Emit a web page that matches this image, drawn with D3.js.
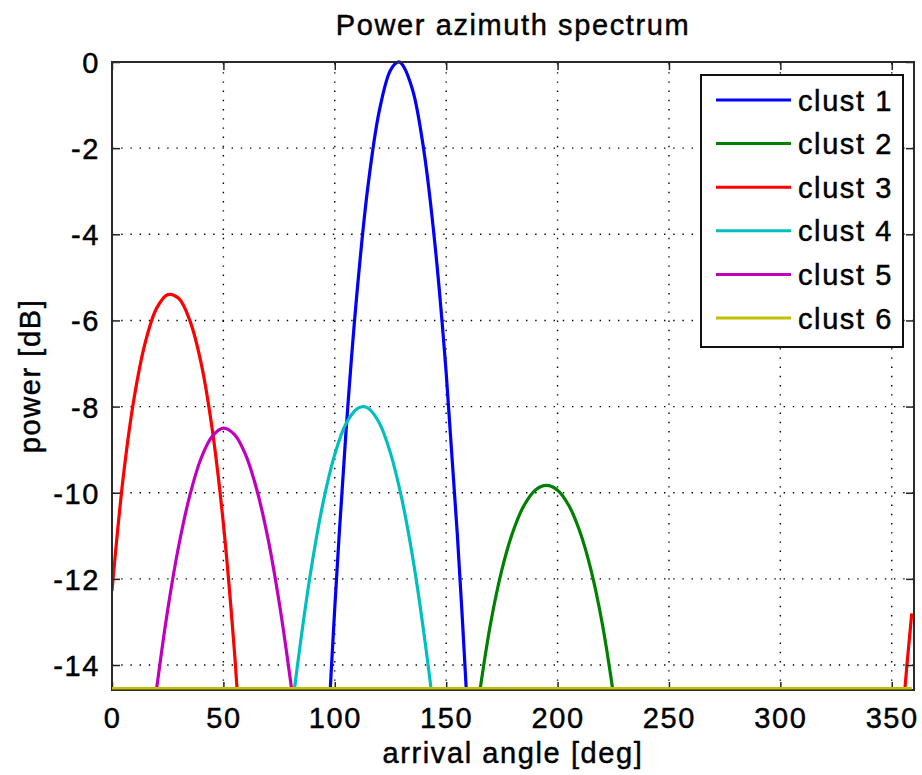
<!DOCTYPE html>
<html>
<head>
<meta charset="utf-8">
<script src="https://cdn.jsdelivr.net/npm/d3@7"></script>
<style>
  html, body { margin: 0; padding: 0; background: #fff; }
  svg { display: block; }
  text { font-family: "Liberation Sans", Arial, Helvetica, sans-serif; fill: #000; stroke: #000; stroke-width: 0.45px; }
</style>
</head>
<body>
<svg id="chart" width="922" height="775"></svg>
<script>
// Power azimuth spectrum per cluster: arrival angle [deg] vs power [dB]
const angleTicks = [0, 50, 100, 150, 200, 250, 300, 350];
const powerTicks = [0, -2, -4, -6, -8, -10, -12, -14];
const clusterNames = ["clust 1", "clust 2", "clust 3", "clust 4", "clust 5", "clust 6"];
const clusterColors = ["#0000ff", "#008000", "#ff0000", "#00bfbf", "#bf00bf", "#bfbf00"];

const clust1Angle = [96, 100, 105, 110, 115, 120, 125, 128.5, 130, 135, 140, 145, 150, 155, 160, 162];
const clust1Power = [-16.5, -12.67, -8.61, -5.34, -2.84, -1.13, -0.19, 0, -0.04, -0.66, -2.06, -4.25, -7.21, -10.96, -15.48, -17.5];

const clust2Angle = [160, 163, 165, 170, 175, 180, 185, 190, 195, 200, 205, 210, 215, 220, 225, 227, 230];
const clust2Power = [-17.5, -15.43, -14.65, -13.02, -11.79, -10.9, -10.29, -9.94, -9.83, -9.94, -10.29, -10.9, -11.79, -13.02, -14.65, -15.43, -17.5];

const clust3Angle = [0, 5, 10, 15, 20, 25, 30, 35, 40, 45, 50, 55, 58, 62, 352, 355, 356, 357, 358, 359];
const clust3Power = [-12.28, -9.66, -7.78, -6.5, -5.72, -5.4, -5.49, -6.01, -6.99, -8.53, -10.72, -13.71, -15.96, -18, -18, -15.0, -14.5, -13.9, -13.35, -12.8];

const clust4Angle = [78, 80, 85, 90, 95, 100, 105, 110, 112.6, 115, 120, 125, 130, 135, 140, 145, 148];
const clust4Power = [-17, -15.44, -13.33, -11.58, -10.17, -9.11, -8.4, -8.05, -8.0, -8.04, -8.38, -9.08, -10.12, -11.51, -13.26, -15.35, -17];

const clust5Angle = [15, 18, 20, 25, 30, 35, 40, 45, 50, 55, 60, 65, 70, 75, 80, 83, 86];
const clust5Power = [-17.5, -15.4, -14.56, -12.72, -11.22, -10.05, -9.2, -8.69, -8.5, -8.65, -9.12, -9.93, -11.06, -12.53, -14.32, -15.56, -17];

const clust6Angle = [0, 359];
const clust6Power = [-14.54, -14.54];

const series = [
  [clust1Angle, clust1Power],
  [clust2Angle, clust2Power],
  [clust3Angle, clust3Power],
  [clust4Angle, clust4Power],
  [clust5Angle, clust5Power],
  [clust6Angle, clust6Power]
].map(([a, p], i) => ({
  name: clusterNames[i],
  color: clusterColors[i],
  points: a.map((v, j) => [v, p[j]])
}));

const svg = d3.select("#chart");
const plotLeft = 112, plotRight = 914, plotTop = 62, plotBottom = 690;
const fontSize = 29, spacing = "1.6px";

const x = d3.scaleLinear().domain([0, 360]).range([plotLeft, plotRight]);
const y = d3.scaleLinear().domain([-14.58, 0]).range([plotBottom, plotTop]);

// dotted grid
const grid = svg.append("g").attr("stroke", "#000").attr("stroke-width", 1.4)
  .attr("stroke-dasharray", "1.4 7.8");
grid.selectAll("line.v").data(angleTicks.filter(d => d > 0)).join("line")
  .attr("class", "v")
  .attr("x1", d => x(d)).attr("x2", d => x(d))
  .attr("y1", plotBottom).attr("y2", plotTop);
grid.selectAll("line.h").data(powerTicks.filter(d => d < 0)).join("line")
  .attr("class", "h")
  .attr("x1", plotLeft).attr("x2", plotRight)
  .attr("y1", d => y(d)).attr("y2", d => y(d));

// curves, clipped to the axes box
svg.append("clipPath").attr("id", "plotClip")
  .append("rect").attr("x", plotLeft).attr("y", plotTop - 2)
  .attr("width", plotRight - plotLeft).attr("height", plotBottom - plotTop + 2);

const line = d3.line()
  .x(d => x(d[0])).y(d => y(d[1]))
  .curve(d3.curveCatmullRom.alpha(0.5));

svg.append("g").attr("clip-path", "url(#plotClip)")
  .selectAll("path").data(series.slice(0, 5)).join("path")
  .attr("d", d => line(d.points))
  .attr("fill", "none")
  .attr("stroke", d => d.color)
  .attr("stroke-width", 3.2)
  .attr("stroke-linejoin", "round");

// axes with inward ticks on all four sides
const tick = 8;
const fmt = d => String(d);
const axisStyle = g => {
  g.select(".domain").remove();
  g.selectAll(".tick line").attr("stroke", "#222").attr("stroke-width", 1.5);
  g.selectAll(".tick text")
    .style("font-size", fontSize + "px")
    .style("letter-spacing", spacing)
    .attr("fill", "#000");
};

svg.append("g").attr("transform", `translate(0,${plotBottom})`)
  .call(d3.axisBottom(x).tickValues(angleTicks).tickSize(-tick).tickPadding(0).tickFormat(fmt))
  .call(axisStyle)
  .call(g => g.selectAll(".tick text").attr("y", 37.7).attr("dy", null));

svg.append("g").attr("transform", `translate(0,${plotTop})`)
  .call(d3.axisTop(x).tickValues(angleTicks).tickSize(-tick).tickFormat(""))
  .call(axisStyle);

svg.append("g").attr("transform", `translate(${plotLeft},0)`)
  .call(d3.axisLeft(y).tickValues(powerTicks).tickSize(-tick).tickFormat(fmt))
  .call(axisStyle)
  .call(g => g.selectAll(".tick text").attr("x", -12).attr("dy", "10.5px"));

svg.append("g").attr("transform", `translate(${plotRight},0)`)
  .call(d3.axisRight(y).tickValues(powerTicks).tickSize(-tick).tickFormat(""))
  .call(axisStyle);

svg.append("rect")
  .attr("x", plotLeft).attr("y", plotTop)
  .attr("width", plotRight - plotLeft).attr("height", plotBottom - plotTop)
  .attr("fill", "none").attr("stroke", "#2a2a2a").attr("stroke-width", 2);

// the flat cluster sits on the lower edge, drawn above the frame
svg.append("path")
  .attr("d", line(series[5].points))
  .attr("fill", "none").attr("stroke", series[5].color).attr("stroke-width", 2.5)
  .attr("clip-path", "url(#plotClip)");

// title and axis labels
svg.append("text")
  .attr("x", (plotLeft + plotRight) / 2).attr("y", 35)
  .attr("text-anchor", "middle")
  .style("font-size", fontSize + "px").style("letter-spacing", spacing)
  .text("Power azimuth spectrum");

svg.append("text")
  .attr("x", (plotLeft + plotRight) / 2).attr("y", 763)
  .attr("text-anchor", "middle")
  .style("font-size", fontSize + "px").style("letter-spacing", spacing)
  .text("arrival angle [deg]");

svg.append("text")
  .attr("transform", `translate(40,${(plotTop + plotBottom) / 2}) rotate(-90)`)
  .attr("text-anchor", "middle")
  .style("font-size", fontSize + "px").style("letter-spacing", spacing)
  .text("power [dB]");

// legend
const lg = svg.append("g");
lg.append("rect")
  .attr("x", 701).attr("y", 75).attr("width", 202).attr("height", 272)
  .attr("fill", "#fff").attr("stroke", "#111").attr("stroke-width", 2);
const rowY = d3.scaleLinear().domain([0, 5]).range([100, 318]);
const rows = lg.selectAll("g.row").data(series).join("g")
  .attr("class", "row")
  .attr("transform", (d, i) => `translate(0,${rowY(i)})`);
rows.append("line")
  .attr("x1", 716).attr("x2", 791)
  .attr("stroke", d => d.color).attr("stroke-width", 3);
rows.append("text")
  .attr("x", 798).attr("dy", "10.5px")
  .style("font-size", fontSize + "px").style("letter-spacing", spacing)
  .text(d => d.name);
</script>
</body>
</html>
